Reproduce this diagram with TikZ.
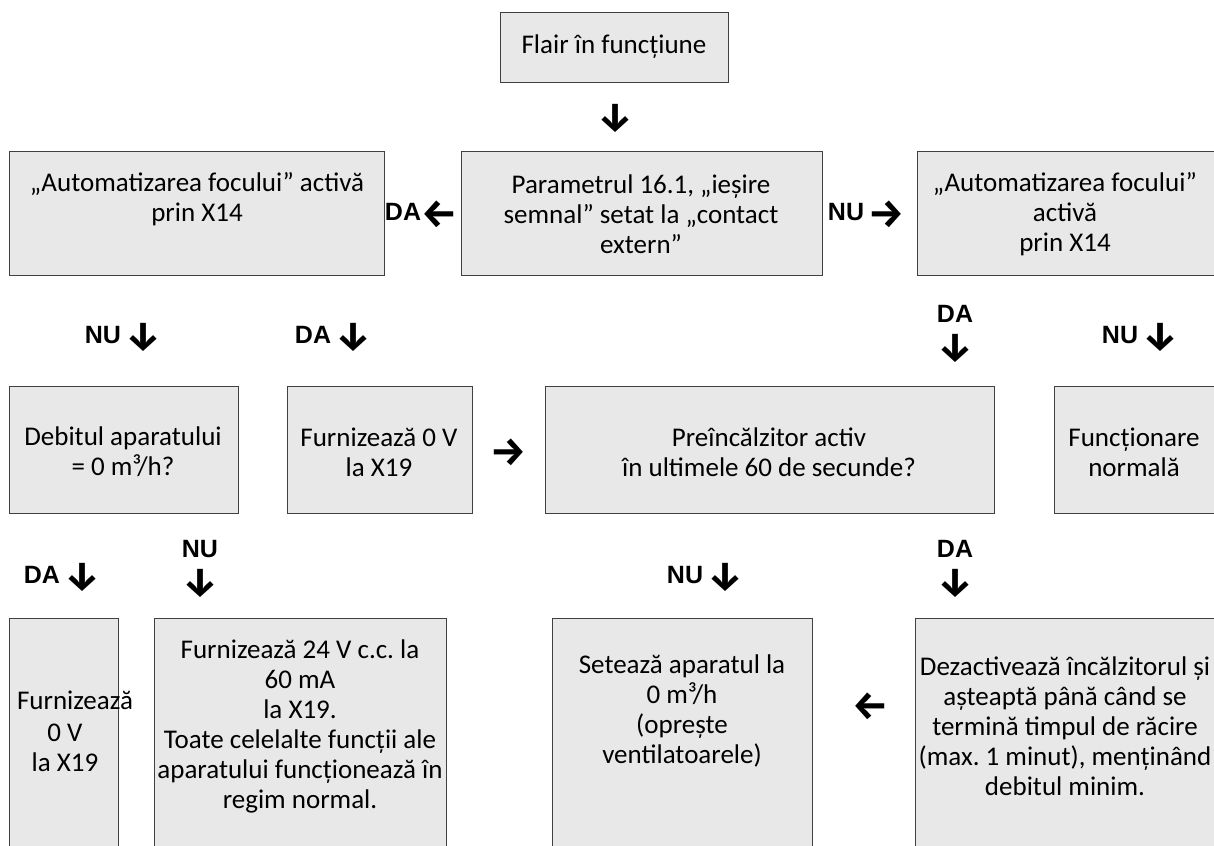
\documentclass[tikz,border=0pt]{standalone}
\usepackage{fontspec}
\setmainfont{Carlito}
\newfontfamily\labfont{Liberation Sans}
\newfontfamily\arrfont{Fira Sans}
\newcommand\myarr[1]{\ensuremath{\vcenter{\hbox{\arrfont\bfseries\fontsize{40}{32}\selectfont #1}}}}
\definecolor{boxfill}{HTML}{E8E8E8}
\definecolor{boxline}{HTML}{404040}
\begin{document}
\frenchspacing
\begin{tikzpicture}[x=1pt,y=-1pt,
  box/.style={draw=boxline, fill=boxfill, line width=1.3pt, anchor=north west, inner sep=0pt},
  txt/.style={align=center, font=\frenchspacing\fontsize{27}{30}\selectfont, inner sep=0pt, text=black},
  lab/.style={align=center, font=\labfont\bfseries\fontsize{25}{32}\selectfont, inner sep=0pt, text=black}]
\useasboundingbox (0,0) rectangle (1214,845);
% row 1
\node[box, minimum width=228pt, minimum height=70pt] (b1) at (500,12) {};
\node[box, minimum width=375pt, minimum height=124pt] (b2) at (9,151) {};
\node[box, minimum width=361pt, minimum height=124pt] (b3) at (461,151) {};
\node[box, minimum width=310pt, minimum height=124pt] (b4) at (917,151) {};
% row 3
\node[box, minimum width=229pt, minimum height=127pt] (d1) at (9,386) {};
\node[box, minimum width=185pt, minimum height=127pt] (d2) at (287,386) {};
\node[box, minimum width=449pt, minimum height=127pt] (d3) at (545,386) {};
\node[box, minimum width=170pt, minimum height=127pt] (d4) at (1054,386) {};
% row 5
\node[box, minimum width=109pt, minimum height=240pt] (e1) at (9,618) {};
\node[box, minimum width=292pt, minimum height=240pt] (e2) at (154,618) {};
\node[box, minimum width=260pt, minimum height=240pt] (e3) at (552,618) {};
\node[box, minimum width=310pt, minimum height=240pt] (e4) at (915,618) {};
% texts
\node[txt] (t1) at (614,47) {Flair în funcțiune};
\node[txt] (t2) at (197,199) {„Automatizarea focului” activă\\prin X14};
\node[txt] (t3) at (641,214) {Parametrul 16.1, „ieșire\\semnal” setat la „contact\\extern”};
\node[txt] (t4) at (1065,214) {„Automatizarea focului”\\activă\\prin X14};
\node[txt] (td1) at (123,452) {Debitul aparatului\\= 0 m³/h?};
\node[txt] (td2) at (379,452) {Furnizează 0 V\\la X19};
\node[txt] (td3) at (769,452) {Preîncălzitor activ\\în ultimele 60 de secunde?};
\node[txt] (td4) at (1134,452) {Funcționare\\normală};
\node[txt] (te1) at (75,700) {Furnizează};
\node[txt] (te1b) at (65,748) {0 V\\la X19};
\node[txt] (te2) at (300,726) {Furnizează 24 V c.c. la\\60 mA\\la X19.\\Toate celelalte funcții ale\\aparatului funcționează în\\regim normal.};
\node[txt] (te3) at (682,711) {Setează aparatul la\\0 m³/h\\(oprește\\ventilatoarele)};
\node[txt] (te4) at (1065,726) {Dezactivează încălzitorul și\\așteaptă până când se\\termină timpul de răcire\\(max. 1 minut), menținând\\debitul minim.};
% labels
\node[lab] (l1) at (615,118) {\myarr{↓}};
\node[lab] (l2) at (421,214) {DA\myarr{←}};
\node[lab] (l3) at (866,214) {NU\hspace{4pt}\myarr{→}};
\node[lab] (l4) at (123,337) {NU\hspace{4pt}\myarr{↓}};
\node[lab] (l5) at (333,337) {DA\hspace{4pt}\myarr{↓}};
\node[lab] (l6) at (955,334) {DA\\\myarr{↓}};
\node[lab] (l7) at (1140,337) {NU\hspace{4pt}\myarr{↓}};
\node[lab] (l8) at (508,452) {\myarr{→}};
\node[lab] (l9) at (62,577) {DA\hspace{4pt}\myarr{↓}};
\node[lab] (l10) at (200,569) {NU\\\myarr{↓}};
\node[lab] (l11) at (705,577) {NU\hspace{4pt}\myarr{↓}};
\node[lab] (l12) at (955,569) {DA\\\myarr{↓}};
\node[lab] (l13) at (870,706) {\myarr{←}};
\end{tikzpicture}
\end{document}
